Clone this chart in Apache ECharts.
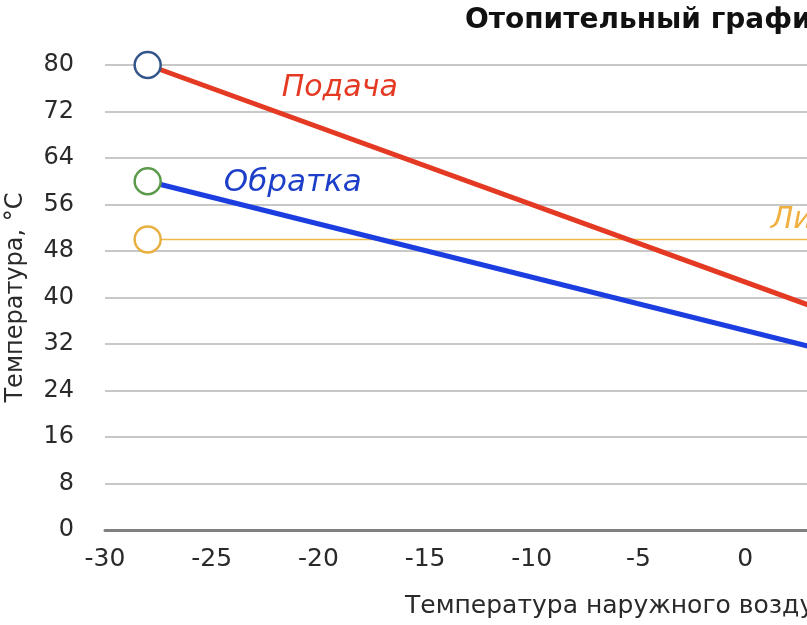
<!DOCTYPE html>
<html><head><meta charset="utf-8">
<script src="https://cdn.jsdelivr.net/npm/echarts@6/dist/echarts.min.js"></script>
<style>html,body{margin:0;padding:0;background:#fff}#c{width:807px;height:625px}</style>
</head><body><div id="c"></div>
<script>
const titleText = 'Отопительный график';
const xName = 'Температура наружного воздуха, °С';
const yName = 'Температура, °С';
const xTicks = [-30, 2.9, 5];   // min, visible max, interval
const yTicks = [0, 80, 8];
const supply = [[-28, 80], [8, 32]];
const ret = [[-28, 60], [8, 27]];
const limit = [[-28, 50], [10, 50]];
const labels = { supply: 'Подача', ret: 'Обратка', limit: 'Линия излома' };

const F = 'DejaVu Sans';
const chart = echarts.init(document.getElementById('c'));
function firstMarker(data, color) {
  return data.map((p, i) => i === 0 ? { value: p, symbol: 'circle', symbolSize: 26,
    itemStyle: { color: '#fff', borderColor: color, borderWidth: 2.5 } } : { value: p, symbol: 'none' });
}
function tag(coord, text, color, pos, size) {
  return { symbol: 'circle', symbolSize: 1, itemStyle: { color: 'rgba(0,0,0,0)' },
    data: [{ coord: coord, label: { show: true, formatter: text, position: pos, distance: 0,
      fontFamily: F, fontStyle: 'italic', fontSize: size, color: color } }] };
}
chart.setOption({
  animation: false,
  title: { text: titleText, left: 460, top: 2, textStyle: { fontFamily: F, fontWeight: 'bold', fontSize: 28, color: '#111' } },
  grid: { left: 105, top: 65, bottom: 95, right: 0, outerBoundsMode: 'none', containLabel: false },
  xAxis: { type: 'value', min: xTicks[0], max: xTicks[1], interval: xTicks[2],
    name: xName, nameLocation: 'start', nameGap: -300,
    nameTextStyle: { fontFamily: F, fontSize: 25, color: '#2a2a2a', align: 'left', verticalAlign: 'top', padding: [64, 0, 0, 0] },
    axisLine: { lineStyle: { color: '#808080', width: 3 } }, axisTick: { show: false },
    axisLabel: { fontFamily: F, fontSize: 25, color: '#2a2a2a', margin: 17, showMaxLabel: false },
    splitLine: { show: false } },
  yAxis: { type: 'value', min: yTicks[0], max: yTicks[1], interval: yTicks[2],
    name: yName, nameLocation: 'middle', nameGap: 77,
    nameTextStyle: { fontFamily: F, fontSize: 24, color: '#2a2a2a' },
    axisLine: { show: false }, axisTick: { show: false },
    axisLabel: { fontFamily: F, fontSize: 24, color: '#2a2a2a', margin: 31 },
    splitLine: { lineStyle: { color: '#c8c8c8', width: 2 } } },
  series: [
    { type: 'line', data: firstMarker(limit, '#e8b040'), lineStyle: { color: '#f0b848', width: 1.5 }, z: 2,
      markPoint: tag([1.18, 53.3], labels.limit, '#f0b040', 'right', 30) },
    { type: 'line', data: firstMarker(ret, '#5a9a4a'), lineStyle: { color: '#1c3ee0', width: 5 }, z: 3,
      markPoint: tag([-21.2, 59.7], labels.ret, '#1c3ec8', 'inside', 31) },
    { type: 'line', data: firstMarker(supply, '#34558a'), lineStyle: { color: '#e43a24', width: 5 }, z: 4,
      markPoint: tag([-19.0, 76.0], labels.supply, '#e43a24', 'inside', 30) }
  ]
});
</script></body></html>
